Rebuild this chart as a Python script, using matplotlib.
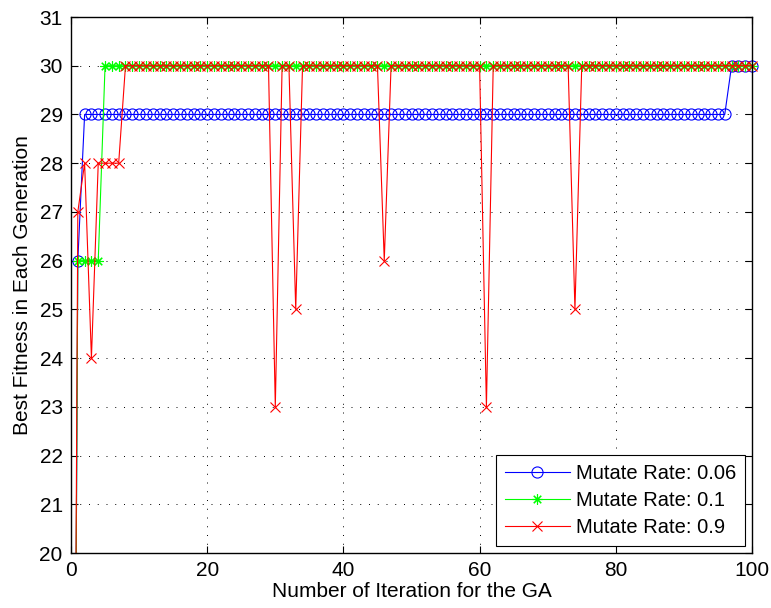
import matplotlib
matplotlib.use("Agg")
import matplotlib.pyplot as plt
from matplotlib.transforms import Bbox, TransformedBbox

plt.rcParams['font.family'] = ['Liberation Sans', 'DejaVu Sans']

# iteration numbers 0..100
iterations = list(range(0, 101))

# best fitness per generation
rate_006 = [0, 26, 29, 29, 29, 29, 29, 29, 29, 29,
            29, 29, 29, 29, 29, 29, 29, 29, 29, 29,
            29, 29, 29, 29, 29, 29, 29, 29, 29, 29,
            29, 29, 29, 29, 29, 29, 29, 29, 29, 29,
            29, 29, 29, 29, 29, 29, 29, 29, 29, 29,
            29, 29, 29, 29, 29, 29, 29, 29, 29, 29,
            29, 29, 29, 29, 29, 29, 29, 29, 29, 29,
            29, 29, 29, 29, 29, 29, 29, 29, 29, 29,
            29, 29, 29, 29, 29, 29, 29, 29, 29, 29,
            29, 29, 29, 29, 29, 29, 29, 30, 30, 30,
            30]
rate_01 = [0, 26, 26, 26, 26, 30, 30, 30, 30, 30,
           30, 30, 30, 30, 30, 30, 30, 30, 30, 30,
           30, 30, 30, 30, 30, 30, 30, 30, 30, 30,
           30, 30, 30, 30, 30, 30, 30, 30, 30, 30,
           30, 30, 30, 30, 30, 30, 30, 30, 30, 30,
           30, 30, 30, 30, 30, 30, 30, 30, 30, 30,
           30, 30, 30, 30, 30, 30, 30, 30, 30, 30,
           30, 30, 30, 30, 30, 30, 30, 30, 30, 30,
           30, 30, 30, 30, 30, 30, 30, 30, 30, 30,
           30, 30, 30, 30, 30, 30, 30, 30, 30, 30,
           30]
rate_09 = [0, 27, 28, 24, 28, 28, 28, 28, 30, 30,
           30, 30, 30, 30, 30, 30, 30, 30, 30, 30,
           30, 30, 30, 30, 30, 30, 30, 30, 30, 30,
           23, 30, 30, 25, 30, 30, 30, 30, 30, 30,
           30, 30, 30, 30, 30, 30, 26, 30, 30, 30,
           30, 30, 30, 30, 30, 30, 30, 30, 30, 30,
           30, 23, 30, 30, 30, 30, 30, 30, 30, 30,
           30, 30, 30, 30, 25, 30, 30, 30, 30, 30,
           30, 30, 30, 30, 30, 30, 30, 30, 30, 30,
           30, 30, 30, 30, 30, 30, 30, 30, 30, 30,
           30]

labels = ['Mutate Rate: 0.06', 'Mutate Rate: 0.1', 'Mutate Rate: 0.9']

fig = plt.figure(figsize=(7.71, 6.08), dpi=100)
ax = fig.add_axes([71 / 771, 1 - 553 / 608, 681 / 771, 536 / 608])

l1, = ax.plot(iterations, rate_006, color='#0000ff', lw=0.8, marker='o',
              markersize=8, markerfacecolor='none', markeredgewidth=0.8, label=labels[0])
l2, = ax.plot(iterations, rate_01, color='#00ff00', lw=0.8, marker=(8, 2, 0),
              markersize=7.5, markeredgewidth=0.8, label=labels[1])
l3, = ax.plot(iterations, rate_09, color='#ff0000', lw=0.8, marker='x',
              markersize=6.5, markeredgewidth=0.8, label=labels[2])

# like MATLAB: markers sitting on the right/top edge are not cut off
clip = TransformedBbox(Bbox([[-0.02, 0], [1.02, 1.02]]), ax.transAxes)
for ln in (l1, l2, l3):
    ln.set_clip_box(clip)

ax.set_xlim(0, 100)
ax.set_ylim(20, 31)
ax.set_xticks(range(0, 101, 20))
ax.set_yticks(range(20, 32))
ax.tick_params(direction='in', length=5, width=0.8, top=True, right=True,
               labelsize=15, pad=6)
for s in ax.spines.values():
    s.set_linewidth(1.0)
ax.grid(True, color='black', linestyle=(0, (1, 8)), linewidth=0.7)

ax.set_xlabel('Number of Iteration for the GA', fontsize=15, labelpad=1)
ax.set_ylabel('Best Fitness in Each Generation', fontsize=15, labelpad=5)

leg = ax.legend(loc='lower right', fontsize=14.5, fancybox=False, framealpha=1,
                edgecolor='black', borderaxespad=0.35, handlelength=3.2,
                handletextpad=0.3, labelspacing=0.4, borderpad=0.45)
leg.get_frame().set_linewidth(0.8)

fig.savefig('out.png', dpi=100)
